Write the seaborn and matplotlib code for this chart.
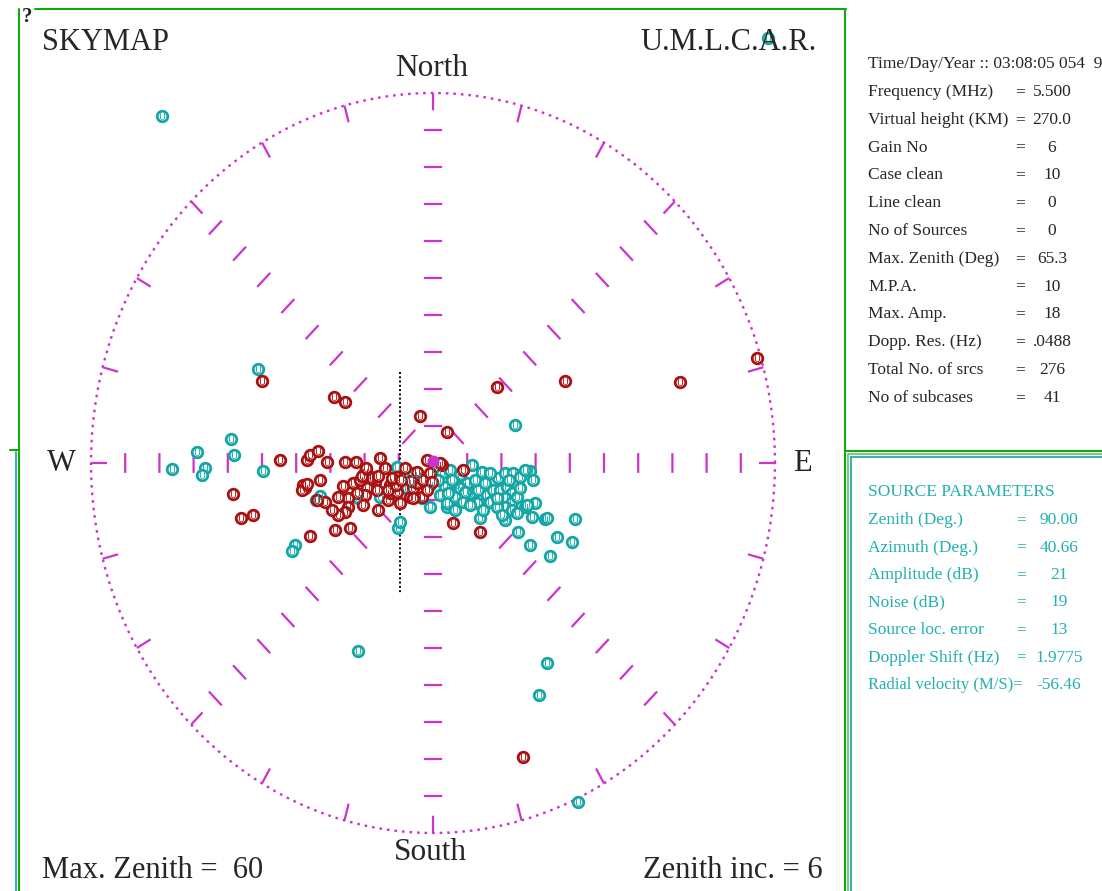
import numpy as np
import pandas as pd
import matplotlib
matplotlib.use("Agg")
import matplotlib.pyplot as plt
import seaborn as sns
from matplotlib.lines import Line2D

# sky positions of the sources: east / north components of zenith angle (deg)
teal_east = [-47.5, 58.8, -30.7, -35.4, -34.9, -41.4, -40.0, -40.5, -45.8, -29.8,
             14.4, -24.2, -24.7, -13.2, 20.0, 18.6, 25.4, -6.1, -5.8, -20.5,
             -19.8, -13.2, -9.3, -0.5, 24.9, 24.4, 21.8, 20.5, 17.0, 19.6,
             17.4, 17.9, 16.1, 14.9, 8.2, 2.5, 17.0, 17.5, -6.3, -4.9,
             -3.5, -3.7, -4.6, -1.9, 0.4, 1.6, 3.0, 4.7, 6.8, 8.6,
             2.1, 1.2, 2.5, 3.9, 5.3, 6.5, 7.9, 9.5, 7.7, 4.2,
             6.0, 7.4, 9.1, 10.5, 11.4, 12.6, 14.0, 15.3, 11.8, 13.0,
             13.9, 12.6, 13.9, 14.7, 12.6, 13.9, 12.6, 14.7, 16.5, 20.0,
             10.0, 11.2, 4.7, 2.6, 3.3, 0.9, 10.0, 11.2, 5.6, 6.5,
             8.8, 3.9, 13.3, 12.1, 15.3, -0.5, -2.6, 16.1]
teal_north = [56.3, 68.9, 15.2, 3.9, 1.3, 1.8, -0.8, -1.9, -1.0, -1.3,
              6.2, -13.3, -14.3, -30.5, -32.4, -37.6, -55.0, -10.5, -9.6, -6.0,
              -5.4, -5.7, -5.5, -7.1, -9.1, -12.8, -12.0, -15.1, -13.3, -9.1,
              -8.8, -6.5, -7.1, -11.2, -8.9, -7.1, -1.3, -2.8, -0.6, -2.3,
              -1.6, -3.2, -4.1, -5.7, -1.1, -1.6, -1.1, -1.9, -0.3, -1.5,
              -3.9, -5.2, -6.5, -5.5, -6.3, -4.9, -4.4, -5.2, -6.5, -3.6,
              -3.2, -2.8, -3.2, -4.4, -2.4, -1.6, -1.6, -2.3, -4.4, -3.9,
              -4.9, -5.7, -6.3, -5.5, -7.1, -7.6, -9.2, -8.1, -6.8, -8.9,
              -6.3, -7.1, -4.1, -4.9, -2.8, -2.8, -1.6, -5.7, -4.7, -6.8,
              -7.6, -7.6, -2.8, -8.4, -4.1, -3.6, -1.9, -1.1]

red_east = [56.8, 43.3, 23.2, 11.2, -2.3, -30.0, -17.4, -15.4, -35.1, -33.7,
            -31.6, -26.8, -22.1, -21.6, -20.2, -15.4, -9.3, -8.4, -6.3, -1.1,
            2.5, 1.6, -22.8, -22.5, -23.0, -22.1, -19.8, -15.8, -14.0, -11.9,
            -11.1, -10.2, -12.8, -11.6, -9.8, -11.9, -13.3, -14.9, -16.7, -14.9,
            -15.4, -16.7, -17.7, -18.9, -20.3, -12.3, -9.6, -7.9, -7.5, -7.0,
            -6.3, -5.8, -4.0, -3.5, -2.8, -1.8, -0.5, -0.2, -1.9, -1.1,
            -2.8, 1.2, -17.2, -14.6, -21.6, 3.5, 8.2, 15.8, -11.4, -10.7,
            -9.6, -12.5, -11.8, -7.5, -7.9, -6.5, -7.2, -3.9, -4.9, -18.6,
            -13.5, -5.6, 5.3, -3.5]
red_north = [17.0, 13.1, 13.3, 12.3, 7.6, 13.3, 10.7, 9.9, -5.0, -8.9,
             -8.4, 0.5, 0.5, 1.3, 1.9, 0.2, 0.8, -0.8, -2.3, 0.5,
             5.0, -0.3, -3.6, -4.1, -4.4, -3.4, -2.8, -3.7, -3.2, -1.5,
             -2.8, -3.1, -2.8, -4.1, -4.4, -5.2, -4.9, -5.7, -5.5, -7.1,
             -7.9, -8.4, -7.6, -6.3, -6.0, -6.8, -7.6, -6.0, -4.9, -3.1,
             -4.7, -6.5, -5.5, -4.1, -3.2, -2.8, -1.6, -3.1, -5.5, -4.4,
             -1.5, 0.0, -10.9, -10.5, -11.8, -9.7, -11.2, -47.7, -1.9, -2.4,
             -2.1, -2.1, -0.8, -3.6, -4.4, -3.6, -2.4, -2.9, -0.8, 0.2,
             0.2, -2.8, -1.1, -5.7]

selected_source = (0.0, 0.4)
cursor_east = -5.8
cursor_north = (14.8, -21.0)

max_zenith = 60
zenith_inc = 6

time_line = "Time/Day/Year :: 03:08:05 054  9"
info_labels = ["Frequency (MHz)", "Virtual height (KM)", "Gain No", "Case clean",
               "Line clean", "No of Sources", "Max. Zenith (Deg)", "M.P.A.",
               "Max. Amp.", "Dopp. Res. (Hz)", "Total No. of srcs", "No of subcases"]
info_values = ["5.500", "270.0", "6", "10", "0", "0", "65.3", "10", "18",
               ".0488", "276", "41"]

src_labels = ["Zenith (Deg.)", "Azimuth (Deg.)", "Amplitude (dB)", "Noise (dB)",
              "Source loc. error", "Doppler Shift (Hz)", "Radial velocity (M/S)="]
src_values = ["90.00", "40.66", "21", "19", "13", "1.9775", "-56.46"]

TEAL = "#12a6a6"
RED = "#aa1010"
MAGENTA = "#cc33cc"
GREEN = "#10aa10"
LGREEN = "#60c860"
TEXT_TEAL = "#22b0b0"

sns.set_style("white")
plt.rcParams["font.family"] = ["Liberation Serif", "DejaVu Serif"]

W, H = 1102, 891
fig = plt.figure(figsize=(W / 100, H / 100), dpi=100)
fig.patch.set_facecolor("white")


def fx(px):
    return px / W


def fy(py):
    return 1 - py / H


# sky map axes, in zenith degrees
lim = 72
x0, x1 = 433 - lim * 342 / 60, 433 + lim * 342 / 60
y0, y1 = 463 + lim * 370 / 60, 463 - lim * 370 / 60
ax = fig.add_axes([fx(x0), fy(y0), fx(x1) - fx(x0), fy(y1) - fy(y0)])
ax.set_xlim(-lim, lim)
ax.set_ylim(-lim, lim)
ax.axis("off")

# outer dotted circle
t = np.linspace(0, 2 * np.pi, 721)
ax.plot(max_zenith * np.cos(t), max_zenith * np.sin(t), color=MAGENTA,
        lw=1.7, linestyle=(0, (1.1, 2.1)))

segs_x, segs_y = [], []
# radial ticks on the circle every 15 deg
for a in np.deg2rad(np.arange(0, 360, 15)):
    r0, r1 = max_zenith, max_zenith - 2.8
    segs_x += [r0 * np.sin(a), r1 * np.sin(a), np.nan]
    segs_y += [r0 * np.cos(a), r1 * np.cos(a), np.nan]
# ticks along the 8 spokes
half = 1.6
for k in range(1, max_zenith // zenith_inc):
    r = k * zenith_inc
    for a in np.deg2rad(np.arange(0, 360, 45)):
        cx, cy = r * np.sin(a), r * np.cos(a)
        px_, py_ = np.cos(a), -np.sin(a)
        segs_x += [cx - half * px_, cx + half * px_, np.nan]
        segs_y += [cy - half * py_, cy + half * py_, np.nan]
ax.plot(segs_x, segs_y, color=MAGENTA, lw=1.6, solid_capstyle="butt")

# cursor line
ax.plot([cursor_east, cursor_east], list(cursor_north), color="black",
        lw=1.4, linestyle=(0, (1, 1.2)))

df = pd.DataFrame({
    "east": teal_east + red_east,
    "north": teal_north + red_north,
    "kind": ["teal"] * len(teal_east) + ["red"] * len(red_east),
})
colors = {"teal": TEAL, "red": RED}
for kind in ["teal", "red"]:
    sub = df[df["kind"] == kind]
    sns.scatterplot(data=sub, x="east", y="north", ax=ax, color="white",
                    edgecolor=colors[kind], linewidth=2.0, s=58,
                    legend=False, clip_on=False, zorder=3)
for kind in ["teal", "red"]:
    sub = df[df["kind"] == kind]
    sns.scatterplot(data=sub, x="east", y="north", ax=ax, color=colors[kind],
                    marker="$\\mathrm{U}$", linewidth=0, s=24, legend=False,
                    clip_on=False, zorder=4)
ax.scatter([selected_source[0]], [selected_source[1]], s=75, color=MAGENTA,
           linewidth=0, zorder=5)
ax.set_xlabel("")
ax.set_ylabel("")

# labels around the map
fig.text(fx(22), fy(17), "?", fontsize=15, fontweight="bold", va="center")
fig.text(fx(42), fy(42), "SKYMAP", fontsize=22, va="center")
fig.text(fx(640), fy(42), "U.M.L.C.A.R.", fontsize=22, va="center")
fig.text(fx(432), fy(69), "North", fontsize=22.5, ha="center", va="center")
fig.text(fx(430), fy(852), "South", fontsize=22.5, ha="center", va="center")
fig.text(fx(61), fy(464), "W", fontsize=22, ha="center", va="center")
fig.text(fx(802), fy(464), "E", fontsize=22, ha="center", va="center")
fig.text(fx(42), fy(871), "Max. Zenith =  %d" % max_zenith, fontsize=22, va="center")
fig.text(fx(823), fy(871), "Zenith inc. = %d" % zenith_inc, fontsize=22,
         ha="right", va="center")

# upper info panel
fs = 12.5
fig.text(fx(868), fy(64), time_line, fontsize=fs, va="center")
for i, (lab, val) in enumerate(zip(info_labels, info_values)):
    yy = 92 + 27.8 * i
    fig.text(fx(868), fy(yy), lab, fontsize=fs, va="center")
    fig.text(fx(1020), fy(yy), "=", fontsize=fs, ha="center", va="center")
    fig.text(fx(1052), fy(yy), val, fontsize=fs, ha="center", va="center")

# source parameter panel
fig.text(fx(868), fy(492), "SOURCE PARAMETERS", fontsize=fs, va="center",
         color=TEXT_TEAL)
for i, (lab, val) in enumerate(zip(src_labels, src_values)):
    yy = 520 + 27.5 * i
    lab_fs = fs if not lab.endswith("=") else 12
    fig.text(fx(868), fy(yy), lab, fontsize=lab_fs, va="center", color=TEXT_TEAL)
    if not lab.endswith("="):
        fig.text(fx(1021), fy(yy), "=", fontsize=fs, ha="center", va="center",
                 color=TEXT_TEAL)
    fig.text(fx(1059), fy(yy), val, fontsize=fs, ha="center", va="center",
             color=TEXT_TEAL)


# panel frames
def frame(xa, ya, xb, yb, color, lw=1.5):
    fig.add_artist(Line2D([fx(xa), fx(xb)], [fy(ya), fy(yb)], color=color,
                          lw=lw, transform=fig.transFigure))


frame(35, 9, 846, 9, GREEN)
frame(19, 9, 19, 891, GREEN)
frame(10, 450, 19, 450, GREEN)
frame(16, 452, 16, 891, TEAL, 1.2)
frame(845, 9, 845, 891, GREEN)
frame(845, 451, 1102, 451, GREEN)
frame(848, 454, 1102, 454, LGREEN, 1.2)
frame(848, 454, 848, 891, LGREEN, 1.2)
frame(851, 457, 1102, 457, TEAL, 1.2)
frame(851, 457, 851, 891, TEAL, 1.2)

fig.savefig("out.png", dpi=100)
